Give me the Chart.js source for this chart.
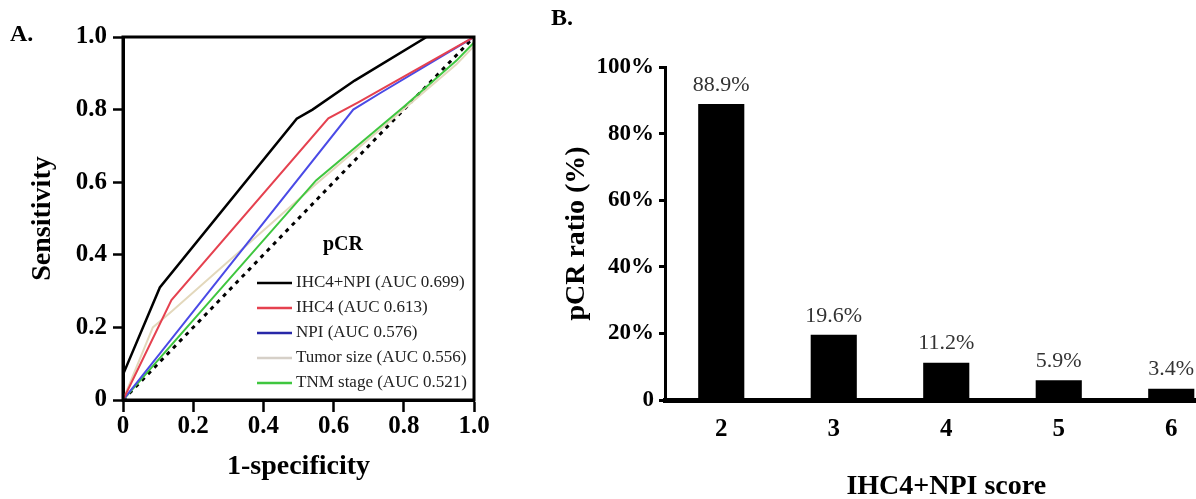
<!DOCTYPE html>
<html><head><meta charset="utf-8">
<script src="https://cdn.jsdelivr.net/npm/chart.js@4/dist/chart.umd.min.js"></script>
<style>
html,body{margin:0;padding:0;background:#fff;overflow:hidden;width:1196px;height:499px;position:relative;}
#cA{position:absolute;left:0;top:0;}
#cB{position:absolute;left:540px;top:0;}
.panel{position:absolute;font-family:"Liberation Serif",serif;font-weight:bold;font-size:24px;color:#000;line-height:28px;}
</style></head><body>
<canvas id="cA" width="560" height="499"></canvas>
<canvas id="cB" width="700" height="499"></canvas>
<div class="panel" style="left:10px;top:19px">A.</div>
<div class="panel" style="left:551px;top:3px">B.</div>
<script>
// ---------- Panel A: ROC curves (1-specificity vs sensitivity) ----------
const rocTicks = [0, 0.2, 0.4, 0.6, 0.8, 1.0];

const ihc4npiX = [0, 0, 0.105, 0.495, 0.54, 0.66, 0.865, 1];
const ihc4npiY = [0, 0.07, 0.31, 0.775, 0.80, 0.88, 1.0, 1.0];

const ihc4X = [0, 0.01, 0.138, 0.585, 0.67, 1];
const ihc4Y = [0, 0.02, 0.275, 0.776, 0.82, 1.0];

const npiX = [0, 0.656, 0.732, 1];
const npiY = [0, 0.80, 0.845, 1.0];

const tumorX = [0, 0.085, 0.14, 0.55, 0.95, 1];
const tumorY = [0, 0.20, 0.245, 0.595, 0.925, 0.975];

const tnmX = [0, 0.55, 0.80, 0.95, 1];
const tnmY = [0, 0.605, 0.808, 0.935, 0.985];

const refX = [0, 1];
const refY = [0, 1];

const rocLabels = ['IHC4+NPI (AUC 0.699)', 'IHC4 (AUC 0.613)', 'NPI (AUC 0.576)', 'Tumor size (AUC 0.556)', 'TNM stage (AUC 0.521)'];
const legendTitle = 'pCR';

// ---------- Panel B: pCR ratio by IHC4+NPI score ----------
const scoreCategories = ['2', '3', '4', '5', '6'];
const pcrRatio = [88.9, 19.6, 11.2, 5.9, 3.4];
const ratioTicks = [0, 20, 40, 60, 80, 100];

const serif = '"Liberation Serif", "Times New Roman", serif';
const pts = (xs, ys) => xs.map((x, i) => ({x: x, y: ys[i]}));

const boxPlugin = {
  id: 'box',
  afterDatasetsDraw(chart) {
    const {ctx, chartArea: a} = chart;
    ctx.save();
    ctx.strokeStyle = '#000';
    ctx.lineWidth = 3;
    ctx.strokeRect(a.left, a.top, a.right - a.left, a.bottom - a.top);
    ctx.restore();
  }
};

const rocLegend = {
  id: 'rocLegend',
  afterDraw(chart, args, o) {
    const ctx = chart.ctx;
    ctx.save();
    ctx.font = 'bold 20px ' + serif;
    ctx.fillStyle = '#000';
    ctx.textAlign = 'center';
    ctx.textBaseline = 'middle';
    ctx.fillText(o.title, o.titleX, o.titleY);
    ctx.font = '17px ' + serif;
    ctx.textAlign = 'left';
    let i = 0;
    chart.data.datasets.forEach(ds => {
      if (!ds.inLegend) return;
      const y = o.y0 + i * o.dy;
      ctx.strokeStyle = ds.legendColor || ds.borderColor;
      ctx.lineWidth = 2.5;
      ctx.beginPath();
      ctx.moveTo(o.x0, y);
      ctx.lineTo(o.x0 + o.len, y);
      ctx.stroke();
      ctx.fillStyle = '#222';
      ctx.fillText(ds.label, o.x0 + o.len + 4, y);
      i++;
    });
    ctx.restore();
  }
};

const lineDs = (label, xs, ys, color, order, extra) => Object.assign({
  label: label, data: pts(xs, ys), borderColor: color, backgroundColor: color,
  borderWidth: 2, pointRadius: 0, tension: 0, fill: false, order: order, inLegend: true
}, extra || {});

new Chart(document.getElementById('cA'), {
  type: 'line',
  data: {
    datasets: [
      lineDs(rocLabels[0], ihc4npiX, ihc4npiY, '#000000', 1, {borderWidth: 2.5}),
      lineDs(rocLabels[1], ihc4X, ihc4Y, '#e5414f', 2),
      lineDs(rocLabels[2], npiX, npiY, '#4a4ae6', 3, {legendColor: '#2828a8'}),
      lineDs(rocLabels[3], tumorX, tumorY, '#e3d8bc', 5, {legendColor: '#d6d0c8'}),
      lineDs(rocLabels[4], tnmX, tnmY, '#3fc63f', 4),
      lineDs('reference', refX, refY, '#000000', 6, {borderDash: [4, 5], borderWidth: 3, inLegend: false})
    ]
  },
  options: {
    responsive: false,
    animation: false,
    layout: {padding: {left: 0, top: 37, right: 86, bottom: 0}},
    plugins: {
      legend: {display: false},
      tooltip: {enabled: false},
      rocLegend: {title: legendTitle, titleX: 343, titleY: 245, x0: 257, len: 35, y0: 283, dy: 25}
    },
    scales: {
      x: {
        type: 'linear', min: 0, max: 1,
        afterBuildTicks: s => { s.ticks = rocTicks.map(v => ({value: v})); },
        ticks: {callback: v => v === 0 ? '0' : v.toFixed(1), font: {family: serif, size: 25, weight: 'bold'}, color: '#000', padding: 0, maxRotation: 0, autoSkip: false},
        grid: {display: true, drawOnChartArea: false, drawTicks: true, tickLength: 12, tickWidth: 2.5, tickColor: '#000'},
        border: {display: true, color: '#000', width: 3},
        title: {display: true, text: '1-specificity', font: {family: serif, size: 28, weight: 'bold'}, color: '#000', padding: {top: 0, bottom: 15}},
        afterFit: s => { s.height = 99; }
      },
      y: {
        type: 'linear', min: 0, max: 1,
        afterBuildTicks: s => { s.ticks = rocTicks.map(v => ({value: v})); },
        ticks: {callback: v => v === 0 ? '0' : v.toFixed(1), font: {family: serif, size: 25, weight: 'bold'}, color: '#000', padding: 6, autoSkip: false},
        grid: {display: true, drawOnChartArea: false, drawTicks: true, tickLength: 10, tickWidth: 2.5, tickColor: '#000'},
        border: {display: true, color: '#000', width: 3},
        title: {display: true, text: 'Sensitivity', font: {family: serif, size: 28, weight: 'bold'}, color: '#000', padding: {top: 26, bottom: 0}},
        afterFit: s => { s.width = 123; }
      }
    }
  },
  plugins: [boxPlugin, rocLegend]
});

const barLabels = {
  id: 'barLabels',
  afterDatasetsDraw(chart) {
    const ctx = chart.ctx;
    const meta = chart.getDatasetMeta(0);
    const vals = chart.data.datasets[0].data;
    ctx.save();
    ctx.font = '22px ' + serif;
    ctx.fillStyle = '#333';
    ctx.textAlign = 'center';
    ctx.textBaseline = 'middle';
    meta.data.forEach((bar, i) => {
      ctx.fillText(vals[i].toFixed(1) + '%', bar.x, bar.y - 19);
    });
    ctx.restore();
  }
};

new Chart(document.getElementById('cB'), {
  type: 'bar',
  data: {
    labels: scoreCategories,
    datasets: [{
      label: 'pCR ratio', data: pcrRatio, backgroundColor: '#000', borderWidth: 0,
      categoryPercentage: 1, barPercentage: 0.41
    }]
  },
  options: {
    responsive: false,
    animation: false,
    layout: {padding: {left: 0, top: 67, right: 12.5, bottom: 0}},
    plugins: {legend: {display: false}, tooltip: {enabled: false}},
    scales: {
      x: {
        type: 'category', offset: true,
        grid: {display: false, drawTicks: false},
        border: {display: true, color: '#000', width: 5},
        ticks: {font: {family: serif, size: 25, weight: 'bold'}, color: '#000', padding: 15, maxRotation: 0},
        title: {display: true, text: 'IHC4+NPI score', font: {family: serif, size: 28, weight: 'bold', lineHeight: 0.8}, color: '#000', padding: {top: 0, bottom: 1}},
        afterFit: s => { s.height = 99; }
      },
      y: {
        min: 0, max: 100,
        afterBuildTicks: s => { s.ticks = ratioTicks.map(v => ({value: v})); },
        ticks: {callback: v => v === 0 ? '0' : v + '%', font: {family: serif, size: 23, weight: 'bold'}, color: '#000', padding: 5, autoSkip: false},
        grid: {display: true, drawOnChartArea: false, drawTicks: true, tickLength: 6, tickWidth: 3, tickColor: '#000'},
        border: {display: true, color: '#000', width: 3},
        title: {display: true, text: 'pCR ratio (%)', font: {family: serif, size: 28, weight: 'bold'}, color: '#000', padding: {top: 20, bottom: 0}},
        afterFit: s => { s.width = 125; }
      }
    }
  },
  plugins: [barLabels]
});
</script>
</body></html>
